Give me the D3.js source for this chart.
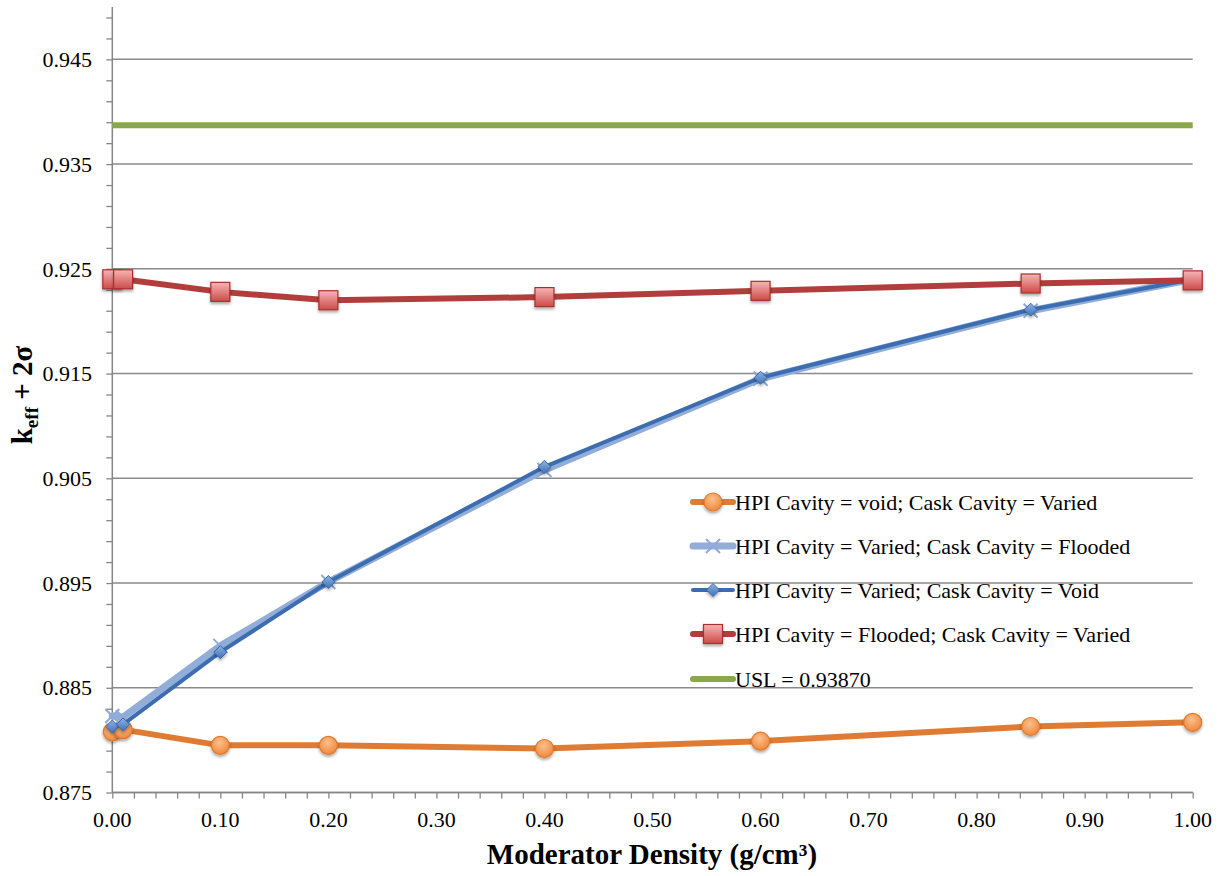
<!DOCTYPE html>
<html>
<head>
<meta charset="utf-8">
<script src="https://cdn.jsdelivr.net/npm/d3@7"></script>
<style>
  html, body { margin: 0; padding: 0; background: #fff; }
  svg { display: block; }
</style>
</head>
<body>
<svg id="chart" width="1223" height="876"></svg>
<script>
// ---- data ----
const xValues = [0, 0.01, 0.1, 0.2, 0.4, 0.6, 0.85, 1.0];
const hpiVoidCaskVaried     = [0.8808, 0.8810, 0.8795, 0.8795, 0.8792, 0.8799, 0.8813, 0.8817];
const hpiVariedCaskFlooded  = [0.8823, 0.8822, 0.8890, 0.8951, 0.9058, 0.9145, 0.9210, 0.9240];
const hpiVariedCaskVoid     = [0.8813, 0.8815, 0.8884, 0.8951, 0.9061, 0.9146, 0.9211, 0.9240];
const hpiFloodedCaskVaried  = [0.9240, 0.9240, 0.9228, 0.9220, 0.9223, 0.9229, 0.9236, 0.9239];
const uslValue = 0.9387;
const uslX = [0, 1];
const seriesNames = [
  "HPI Cavity = void; Cask Cavity = Varied",
  "HPI Cavity = Varied; Cask Cavity = Flooded",
  "HPI Cavity = Varied; Cask Cavity = Void",
  "HPI Cavity = Flooded; Cask Cavity = Varied",
  "USL = 0.93870"
];
const yTickValues = [0.875, 0.885, 0.895, 0.905, 0.915, 0.925, 0.935, 0.945];
const xTickValues = [0, 0.1, 0.2, 0.3, 0.4, 0.5, 0.6, 0.7, 0.8, 0.9, 1.0];
const xTitle = "Moderator Density (g/cm³)";

// ---- layout ----
const FONT = "Liberation Serif, serif";
const svg = d3.select("#chart").attr("font-family", FONT);
const plot = { left: 112.3, right: 1192.7, top: 7, bottom: 792.5 };
const x = d3.scaleLinear().domain([0, 1]).range([plot.left, plot.right]);
const y = d3.scaleLinear().domain([0.875, 0.950]).range([plot.bottom, plot.top]);

const defs = svg.append("defs");
const shadow = defs.append("filter").attr("id", "shadow")
  .attr("x", "-50%").attr("y", "-50%").attr("width", "200%").attr("height", "200%");
shadow.append("feDropShadow").attr("dx", 0).attr("dy", 2).attr("stdDeviation", 1.5)
  .attr("flood-color", "#000").attr("flood-opacity", 0.35);

const gOr = defs.append("radialGradient").attr("id", "gOrange").attr("cx", "45%").attr("cy", "35%").attr("r", "65%");
gOr.append("stop").attr("offset", "0%").attr("stop-color", "#fbc08f");
gOr.append("stop").attr("offset", "100%").attr("stop-color", "#f0883a");
const gRed = defs.append("linearGradient").attr("id", "gRed").attr("x1", 0).attr("y1", 0).attr("x2", 0).attr("y2", 1);
gRed.append("stop").attr("offset", "0%").attr("stop-color", "#f6b5b4");
gRed.append("stop").attr("offset", "100%").attr("stop-color", "#cc4b49");
const gBlue = defs.append("linearGradient").attr("id", "gBlue").attr("x1", 0).attr("y1", 0).attr("x2", 0).attr("y2", 1);
gBlue.append("stop").attr("offset", "0%").attr("stop-color", "#8fb3e3");
gBlue.append("stop").attr("offset", "100%").attr("stop-color", "#3f72b8");

// gridlines
svg.append("g").selectAll("line").data(yTickValues).join("line")
  .attr("x1", plot.left).attr("x2", plot.right)
  .attr("y1", d => y(d)).attr("y2", d => y(d))
  .attr("stroke", "#8a8a8a").attr("stroke-width", 1.5);

// axes
const minorY = d3.range(0, 38).map(i => 0.875 + i * 0.002);
const minorX = d3.range(0, 51).map(i => i * 0.02);
const yAxis = svg.append("g").attr("transform", `translate(${plot.left},0)`)
  .call(d3.axisLeft(y).tickValues(minorY).tickSize(6).tickFormat(""));
const xAxis = svg.append("g").attr("transform", `translate(0,${plot.bottom})`)
  .call(d3.axisBottom(x).tickValues(minorX).tickSize(6).tickFormat(""));
[yAxis, xAxis].forEach(g => {
  g.select(".domain").attr("stroke", "#868686").attr("stroke-width", 1.5);
  g.selectAll(".tick line").attr("stroke", "#868686").attr("stroke-width", 1.3);
});
yAxis.select(".domain").attr("d", `M0,${plot.bottom}V${plot.top}`);
xAxis.select(".domain").attr("d", `M${plot.left},0H${plot.right}`);

svg.append("g").selectAll("text").data(yTickValues).join("text")
  .attr("x", 92).attr("y", d => y(d)).attr("dy", "0.35em")
  .attr("text-anchor", "end").attr("font-size", 22).attr("font-family", FONT)
  .text(d => d3.format(".3f")(d));
svg.append("g").selectAll("text").data(xTickValues).join("text")
  .attr("x", d => x(d)).attr("y", 827)
  .attr("text-anchor", "middle").attr("font-size", 22).attr("font-family", FONT)
  .text(d => d3.format(".2f")(d));

// titles
svg.append("text").attr("x", 652).attr("y", 864).attr("text-anchor", "middle")
  .attr("font-size", 29).attr("font-weight", "bold").attr("font-family", FONT).text(xTitle);
const yt = svg.append("text").attr("transform", "translate(32,395) rotate(-90)")
  .attr("text-anchor", "middle").attr("font-size", 29).attr("font-weight", "bold").attr("font-family", FONT);
yt.append("tspan").text("k");
yt.append("tspan").attr("font-size", 19).attr("dy", 6).text("eff");
yt.append("tspan").attr("dy", -6).text(" + 2σ");

// series
const seriesDefs = [
  { name: seriesNames[0], vals: hpiVoidCaskVaried, color: "#df7b33", width: 6, marker: "circle" },
  { name: seriesNames[1], vals: hpiVariedCaskFlooded, color: "#92aed8", width: 7, marker: "x" },
  { name: seriesNames[2], vals: hpiVariedCaskVoid, color: "#3c6db0", width: 4, marker: "diamond" },
  { name: seriesNames[3], vals: hpiFloodedCaskVaried, color: "#b13e3c", width: 6, marker: "square" }
];
const line = d3.line().x(d => x(d[0])).y(d => y(d[1]));

function drawMarker(g, type, cx, cy) {
  if (type === "circle") {
    g.append("circle").attr("cx", cx).attr("cy", cy).attr("r", 9)
      .attr("fill", "url(#gOrange)").attr("stroke", "#e07a2f").attr("stroke-width", 1.2)
      .attr("filter", "url(#shadow)");
  } else if (type === "square") {
    g.append("rect").attr("x", cx - 9.5).attr("y", cy - 9.5).attr("width", 19).attr("height", 19)
      .attr("fill", "url(#gRed)").attr("stroke", "#a8302e").attr("stroke-width", 1.2)
      .attr("filter", "url(#shadow)");
  } else if (type === "diamond") {
    const s = 6.5;
    g.append("path").attr("d", `M${cx},${cy - s}L${cx + s},${cy}L${cx},${cy + s}L${cx - s},${cy}Z`)
      .attr("fill", "url(#gBlue)").attr("stroke", "#3a69aa").attr("stroke-width", 1)
      .attr("filter", "url(#shadow)");
  } else if (type === "x") {
    const s = 7;
    g.append("path").attr("d", `M${cx - s},${cy - s}L${cx + s},${cy + s}M${cx - s},${cy + s}L${cx + s},${cy - s}`)
      .attr("stroke", "#8eaadb").attr("stroke-width", 2).attr("fill", "none");
  }
}

seriesDefs.forEach(s => {
  const pts = xValues.map((xv, i) => [xv, s.vals[i]]);
  const g = svg.append("g");
  g.append("path").datum(pts).attr("d", line)
    .attr("fill", "none").attr("stroke", s.color).attr("stroke-width", s.width)
    .attr("stroke-linejoin", "round").attr("stroke-linecap", "round");
  pts.forEach(p => drawMarker(g, s.marker, x(p[0]), y(p[1])));
});

// USL line
svg.append("path").datum(uslX.map(v => [v, uslValue])).attr("d", line)
  .attr("fill", "none").attr("stroke", "#8aa84a").attr("stroke-width", 6);

// legend
const legendY = [502, 546, 590, 634, 679];
const legendDefs = seriesDefs.concat([{ name: seriesNames[4], color: "#8aa84a", width: 6, marker: null }]);
legendDefs.forEach((s, i) => {
  const g = svg.append("g");
  const ly = legendY[i];
  g.append("line").attr("x1", 693).attr("x2", 733).attr("y1", ly).attr("y2", ly)
    .attr("stroke", s.color).attr("stroke-width", s.width).attr("stroke-linecap", "round");
  if (s.marker) drawMarker(g, s.marker, 713, ly);
  g.append("text").attr("x", 735).attr("y", ly).attr("dy", "0.35em")
    .attr("font-size", 22).attr("font-family", FONT).text(s.name);
});
</script>
</body>
</html>
